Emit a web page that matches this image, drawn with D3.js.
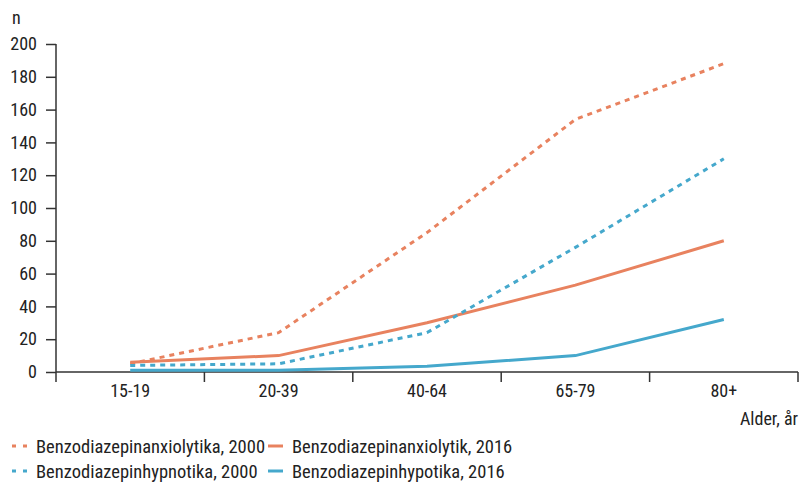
<!DOCTYPE html>
<html><head><meta charset="utf-8">
<script src="https://cdn.jsdelivr.net/npm/d3@7"></script>
<style>
body{margin:0;background:#fff;}
text{font-family:"Liberation Sans Narrow","Roboto Condensed","Liberation Sans",sans-serif;fill:#222;}
</style></head><body>
<svg id="c" width="801" height="483"></svg>
<script>
const categories = ["15-19","20-39","40-64","65-79","80+"];
const anxio2000 = [5, 24, 85, 154, 188];
const anxio2016 = [6, 10, 30, 53, 80];
const hypno2000 = [4, 5, 24, 76, 130];
const hypno2016 = [1, 1, 3.5, 10, 32];
const yTicks = [0,20,40,60,80,100,120,140,160,180,200];
const seriesNames = ["Benzodiazepinanxiolytika, 2000","Benzodiazepinanxiolytik, 2016","Benzodiazepinhypnotika, 2000","Benzodiazepinhypotika, 2016"];

(function(){
const orange = "#e8825f", blue = "#45a8cc";
const series = [
  {name: seriesNames[0], values: anxio2000, color: orange, dash: "5,5"},
  {name: seriesNames[1], values: anxio2016, color: orange, dash: null},
  {name: seriesNames[2], values: hypno2000, color: blue, dash: "5,5"},
  {name: seriesNames[3], values: hypno2016, color: blue, dash: null}
];

const svg = d3.select("#c");
const mL = 56, mR = 798, mT = 44, mB = 372;
const x = d3.scaleBand().domain(categories).range([mL, mR]);
const y = d3.scaleLinear().domain([0,200]).range([mB, mT]);

const ya = svg.append("g").attr("transform", `translate(${mL},0)`)
  .call(d3.axisLeft(y).tickValues(yTicks).tickSize(10).tickPadding(9));
ya.selectAll("text").style("font-size","18px").attr("fill","#222");
ya.selectAll("line,path").attr("stroke","#333").attr("stroke-width",1.5);
ya.select(".domain").attr("d", `M0,${mT}V${mB}`);

const xa = svg.append("g").attr("transform", `translate(0,${mB})`)
  .call(d3.axisBottom(x).tickSize(0).tickPadding(12));
xa.selectAll("text").style("font-size","18px").attr("fill","#222");
xa.select(".domain").attr("stroke","#333").attr("stroke-width",1.5).attr("d", `M${mL},0H${mR}`);
const bounds = categories.map(c => x(c)).concat([mR]);
xa.selectAll(".bt").data(bounds).enter().append("line")
  .attr("x1", d=>d).attr("x2", d=>d).attr("y1",0).attr("y2",10)
  .attr("stroke","#333").attr("stroke-width",1.5);

svg.append("text").attr("x",12).attr("y",24).style("font-size","18px").text("n");
svg.append("text").attr("x",798).attr("y",425).attr("text-anchor","end").style("font-size","18px").text("Alder, år");

const line = d3.line().x((d,i)=>x(categories[i]) + x.bandwidth()/2).y(d=>y(d));
series.forEach(s => {
  svg.append("path").datum(s.values).attr("d", line)
    .attr("fill","none").attr("stroke", s.color).attr("stroke-width",3)
    .attr("stroke-dasharray", s.dash);
});

const lg = [[12,453],[268,453],[12,478],[268,478]];
series.forEach((s,i) => {
  const [lx,ly] = lg[i];
  svg.append("line").attr("x1",lx).attr("x2",lx+15).attr("y1",ly-7).attr("y2",ly-7)
    .attr("stroke",s.color).attr("stroke-width",3).attr("stroke-dasharray", s.dash ? "4,7" : null);
  svg.append("text").attr("x", lx+24).attr("y", ly).style("font-size","18.5px").text(s.name);
});
})();
</script></body></html>
